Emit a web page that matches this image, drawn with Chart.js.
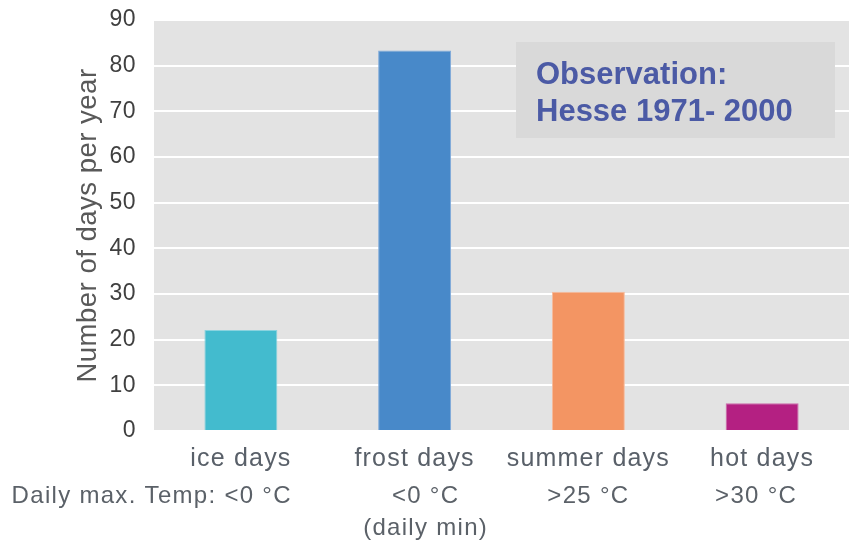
<!DOCTYPE html>
<html>
<head>
<meta charset="utf-8">
<title>Number of days per year – Hesse 1971–2000</title>
<script src="https://cdn.jsdelivr.net/npm/chart.js@4.4.1/dist/chart.umd.min.js"></script>
<style>
  html, body { margin: 0; padding: 0; background: #ffffff; }
  #wrap { width: 850px; height: 544px; position: relative; }
</style>
</head>
<body>
<div id="wrap"><canvas id="chart"></canvas></div>
<script>
// Threshold-day categories and their mean annual counts
const categories = ['ice days', 'frost days', 'summer days', 'hot days'];
const daysPerYear = [22.1, 83.3, 30.5, 6.1];
const yTicks = [0, 10, 20, 30, 40, 50, 60, 70, 80, 90];

// Temperature criterion shown under each category
const criteria = [['<0 °C'], ['<0 °C', '(daily min)'], ['>25 °C'], ['>30 °C']];
const criteriaPrefix = 'Daily max. Temp: ';

const boxLines = ['Observation:', 'Hesse 1971- 2000'];

const barFill   = ['#43BBCE', '#4889C9', '#F39563', '#B42082'];
const barStroke = ['#8AD3DF', '#7FAADA', '#F7BC9C', '#CC6AAB'];

const FONT = '"Liberation Sans", Arial, sans-serif';

// Grey plotting field behind the grid; slightly open lettering for axis text
const plotBackground = {
  id: 'plotBackground',
  beforeDraw(chart) {
    const { ctx, chartArea: a } = chart;
    ctx.save();
    ctx.fillStyle = '#E3E3E3';
    ctx.fillRect(a.left, a.top, a.right - a.left, a.bottom - a.top);
    ctx.restore();
    ctx.letterSpacing = '0.5px';
  },
  afterDraw(chart) {
    chart.ctx.letterSpacing = '0px';
  }
};

// Source box in the upper right corner
const sourceBox = {
  id: 'sourceBox',
  afterDatasetsDraw(chart) {
    const { ctx, chartArea: a } = chart;
    const x = a.right - 333, y = a.top + 22, w = 319, h = 96;
    ctx.save();
    ctx.letterSpacing = '0px';
    ctx.fillStyle = '#D9D9D9';
    ctx.fillRect(x, y, w, h);
    ctx.fillStyle = '#4B5AA5';
    ctx.font = 'bold 31px ' + FONT;
    ctx.textAlign = 'left';
    ctx.textBaseline = 'alphabetic';
    ctx.fillText(boxLines[0], x + 20, y + 41.5);
    ctx.fillText(boxLines[1], x + 20, y + 79);
    ctx.restore();
    // category names are drawn after this (ticks z = 1)
    ctx.letterSpacing = '1.2px';
  }
};

// Criterion row below the category names
const criteriaRow = {
  id: 'criteriaRow',
  afterDraw(chart) {
    const { ctx, chartArea: a } = chart;
    const xs = chart.scales.x;
    const nudge = [51, 11, 0, -6];
    ctx.save();
    ctx.fillStyle = '#5B6168';
    ctx.font = '24px ' + FONT;
    ctx.letterSpacing = '1.3px';
    ctx.textBaseline = 'alphabetic';
    criteria.forEach((lines, i) => {
      const cx = xs.getPixelForValue(i) + nudge[i];
      lines.forEach((txt, j) => {
        const y = a.bottom + 72 + j * 31.5;
        if (i === 0 && j === 0) {
          ctx.textAlign = 'right';
          ctx.fillText(criteriaPrefix + txt, cx, y);
        } else {
          ctx.textAlign = 'center';
          ctx.fillText(txt, cx, y);
        }
      });
    });
    ctx.restore();
  }
};

new Chart(document.getElementById('chart'), {
  type: 'bar',
  data: {
    labels: categories,
    datasets: [{
      data: daysPerYear,
      backgroundColor: barFill,
      borderColor: barStroke,
      borderWidth: 1,
      barPercentage: 0.42,
      categoryPercentage: 1
    }]
  },
  options: {
    responsive: true,
    maintainAspectRatio: false,
    animation: false,
    events: [],
    layout: { padding: { left: 60, top: 20, right: 1, bottom: 0 } },
    plugins: { legend: { display: false }, tooltip: { enabled: false } },
    scales: {
      x: {
        grid: { display: false, drawTicks: false },
        border: { display: false },
        ticks: {
          z: 1,
          color: '#596069',
          font: { family: FONT, size: 25 },
          padding: 13,
          maxRotation: 0,
          autoSkip: false
        },
        afterFit(scale) { scale.height = 113; }
      },
      y: {
        min: 0,
        max: 90,
        afterBuildTicks(scale) { scale.ticks = yTicks.map(v => ({ value: v })); },
        grid: { color: '#FFFFFF', lineWidth: 2, drawTicks: false },
        border: { display: false },
        ticks: {
          color: '#404040',
          font: { family: FONT, size: 23 },
          padding: 18
        },
        title: {
          display: true,
          text: 'Number of days per year',
          color: '#595959',
          font: { family: FONT, size: 27.5 },
          padding: { top: 12, bottom: 0 }
        },
        afterFit(scale) {
          scale.width = 94;
          scale.paddingTop = 0;
          scale.paddingBottom = 0;
        }
      }
    }
  },
  plugins: [plotBackground, sourceBox, criteriaRow]
});
</script>
</body>
</html>
